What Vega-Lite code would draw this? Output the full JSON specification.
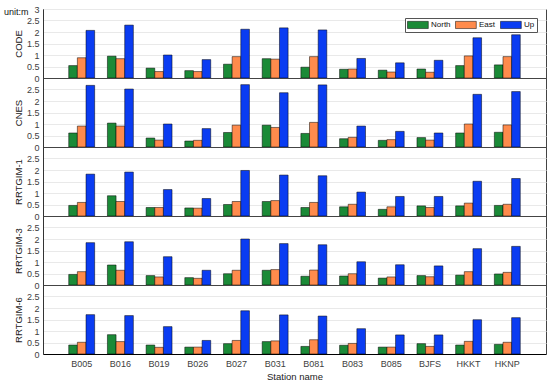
{
  "$schema": "https://vega.github.io/schema/vega-lite/v6.json",
  "padding": {"left": 3, "top": 4, "right": 5, "bottom": 2},
  "bounds": "flush",
  "spacing": 0,
  "datasets": {
    "bars": [
      {"m":"CODE","s":"B005","c":"North","v":0.54},{"m":"CODE","s":"B005","c":"East","v":0.88},{"m":"CODE","s":"B005","c":"Up","v":2.07},
      {"m":"CODE","s":"B016","c":"North","v":0.95},{"m":"CODE","s":"B016","c":"East","v":0.84},{"m":"CODE","s":"B016","c":"Up","v":2.30},
      {"m":"CODE","s":"B019","c":"North","v":0.43},{"m":"CODE","s":"B019","c":"East","v":0.28},{"m":"CODE","s":"B019","c":"Up","v":1.00},
      {"m":"CODE","s":"B026","c":"North","v":0.32},{"m":"CODE","s":"B026","c":"East","v":0.28},{"m":"CODE","s":"B026","c":"Up","v":0.80},
      {"m":"CODE","s":"B027","c":"North","v":0.60},{"m":"CODE","s":"B027","c":"East","v":0.93},{"m":"CODE","s":"B027","c":"Up","v":2.12},
      {"m":"CODE","s":"B031","c":"North","v":0.84},{"m":"CODE","s":"B031","c":"East","v":0.82},{"m":"CODE","s":"B031","c":"Up","v":2.18},
      {"m":"CODE","s":"B081","c":"North","v":0.47},{"m":"CODE","s":"B081","c":"East","v":0.93},{"m":"CODE","s":"B081","c":"Up","v":2.09},
      {"m":"CODE","s":"B083","c":"North","v":0.38},{"m":"CODE","s":"B083","c":"East","v":0.39},{"m":"CODE","s":"B083","c":"Up","v":0.85},
      {"m":"CODE","s":"B085","c":"North","v":0.34},{"m":"CODE","s":"B085","c":"East","v":0.26},{"m":"CODE","s":"B085","c":"Up","v":0.66},
      {"m":"CODE","s":"BJFS","c":"North","v":0.39},{"m":"CODE","s":"BJFS","c":"East","v":0.25},{"m":"CODE","s":"BJFS","c":"Up","v":0.77},
      {"m":"CODE","s":"HKKT","c":"North","v":0.54},{"m":"CODE","s":"HKKT","c":"East","v":0.96},{"m":"CODE","s":"HKKT","c":"Up","v":1.75},
      {"m":"CODE","s":"HKNP","c":"North","v":0.57},{"m":"CODE","s":"HKNP","c":"East","v":0.93},{"m":"CODE","s":"HKNP","c":"Up","v":1.88},

      {"m":"CNES","s":"B005","c":"North","v":0.61},{"m":"CNES","s":"B005","c":"East","v":0.91},{"m":"CNES","s":"B005","c":"Up","v":2.68},
      {"m":"CNES","s":"B016","c":"North","v":1.04},{"m":"CNES","s":"B016","c":"East","v":0.91},{"m":"CNES","s":"B016","c":"Up","v":2.52},
      {"m":"CNES","s":"B019","c":"North","v":0.39},{"m":"CNES","s":"B019","c":"East","v":0.30},{"m":"CNES","s":"B019","c":"Up","v":1.00},
      {"m":"CNES","s":"B026","c":"North","v":0.26},{"m":"CNES","s":"B026","c":"East","v":0.29},{"m":"CNES","s":"B026","c":"Up","v":0.80},
      {"m":"CNES","s":"B027","c":"North","v":0.63},{"m":"CNES","s":"B027","c":"East","v":0.95},{"m":"CNES","s":"B027","c":"Up","v":2.71},
      {"m":"CNES","s":"B031","c":"North","v":0.95},{"m":"CNES","s":"B031","c":"East","v":0.85},{"m":"CNES","s":"B031","c":"Up","v":2.36},
      {"m":"CNES","s":"B081","c":"North","v":0.59},{"m":"CNES","s":"B081","c":"East","v":1.07},{"m":"CNES","s":"B081","c":"Up","v":2.70},
      {"m":"CNES","s":"B083","c":"North","v":0.36},{"m":"CNES","s":"B083","c":"East","v":0.42},{"m":"CNES","s":"B083","c":"Up","v":0.91},
      {"m":"CNES","s":"B085","c":"North","v":0.29},{"m":"CNES","s":"B085","c":"East","v":0.32},{"m":"CNES","s":"B085","c":"Up","v":0.68},
      {"m":"CNES","s":"BJFS","c":"North","v":0.41},{"m":"CNES","s":"BJFS","c":"East","v":0.30},{"m":"CNES","s":"BJFS","c":"Up","v":0.61},
      {"m":"CNES","s":"HKKT","c":"North","v":0.61},{"m":"CNES","s":"HKKT","c":"East","v":1.00},{"m":"CNES","s":"HKKT","c":"Up","v":2.29},
      {"m":"CNES","s":"HKNP","c":"North","v":0.64},{"m":"CNES","s":"HKNP","c":"East","v":0.96},{"m":"CNES","s":"HKNP","c":"Up","v":2.41},

      {"m":"RRTGIM-1","s":"B005","c":"North","v":0.46},{"m":"RRTGIM-1","s":"B005","c":"East","v":0.59},{"m":"RRTGIM-1","s":"B005","c":"Up","v":1.82},
      {"m":"RRTGIM-1","s":"B016","c":"North","v":0.88},{"m":"RRTGIM-1","s":"B016","c":"East","v":0.63},{"m":"RRTGIM-1","s":"B016","c":"Up","v":1.91},
      {"m":"RRTGIM-1","s":"B019","c":"North","v":0.37},{"m":"RRTGIM-1","s":"B019","c":"East","v":0.37},{"m":"RRTGIM-1","s":"B019","c":"Up","v":1.15},
      {"m":"RRTGIM-1","s":"B026","c":"North","v":0.35},{"m":"RRTGIM-1","s":"B026","c":"East","v":0.34},{"m":"RRTGIM-1","s":"B026","c":"Up","v":0.76},
      {"m":"RRTGIM-1","s":"B027","c":"North","v":0.50},{"m":"RRTGIM-1","s":"B027","c":"East","v":0.63},{"m":"RRTGIM-1","s":"B027","c":"Up","v":1.98},
      {"m":"RRTGIM-1","s":"B031","c":"North","v":0.63},{"m":"RRTGIM-1","s":"B031","c":"East","v":0.67},{"m":"RRTGIM-1","s":"B031","c":"Up","v":1.78},
      {"m":"RRTGIM-1","s":"B081","c":"North","v":0.37},{"m":"RRTGIM-1","s":"B081","c":"East","v":0.59},{"m":"RRTGIM-1","s":"B081","c":"Up","v":1.75},
      {"m":"RRTGIM-1","s":"B083","c":"North","v":0.40},{"m":"RRTGIM-1","s":"B083","c":"East","v":0.51},{"m":"RRTGIM-1","s":"B083","c":"Up","v":1.04},
      {"m":"RRTGIM-1","s":"B085","c":"North","v":0.29},{"m":"RRTGIM-1","s":"B085","c":"East","v":0.40},{"m":"RRTGIM-1","s":"B085","c":"Up","v":0.85},
      {"m":"RRTGIM-1","s":"BJFS","c":"North","v":0.44},{"m":"RRTGIM-1","s":"BJFS","c":"East","v":0.37},{"m":"RRTGIM-1","s":"BJFS","c":"Up","v":0.85},
      {"m":"RRTGIM-1","s":"HKKT","c":"North","v":0.44},{"m":"RRTGIM-1","s":"HKKT","c":"East","v":0.56},{"m":"RRTGIM-1","s":"HKKT","c":"Up","v":1.51},
      {"m":"RRTGIM-1","s":"HKNP","c":"North","v":0.46},{"m":"RRTGIM-1","s":"HKNP","c":"East","v":0.51},{"m":"RRTGIM-1","s":"HKNP","c":"Up","v":1.63},

      {"m":"RRTGIM-3","s":"B005","c":"North","v":0.46},{"m":"RRTGIM-3","s":"B005","c":"East","v":0.58},{"m":"RRTGIM-3","s":"B005","c":"Up","v":1.84},
      {"m":"RRTGIM-3","s":"B016","c":"North","v":0.87},{"m":"RRTGIM-3","s":"B016","c":"East","v":0.64},{"m":"RRTGIM-3","s":"B016","c":"Up","v":1.88},
      {"m":"RRTGIM-3","s":"B019","c":"North","v":0.41},{"m":"RRTGIM-3","s":"B019","c":"East","v":0.35},{"m":"RRTGIM-3","s":"B019","c":"Up","v":1.23},
      {"m":"RRTGIM-3","s":"B026","c":"North","v":0.32},{"m":"RRTGIM-3","s":"B026","c":"East","v":0.29},{"m":"RRTGIM-3","s":"B026","c":"Up","v":0.64},
      {"m":"RRTGIM-3","s":"B027","c":"North","v":0.49},{"m":"RRTGIM-3","s":"B027","c":"East","v":0.64},{"m":"RRTGIM-3","s":"B027","c":"Up","v":2.00},
      {"m":"RRTGIM-3","s":"B031","c":"North","v":0.64},{"m":"RRTGIM-3","s":"B031","c":"East","v":0.67},{"m":"RRTGIM-3","s":"B031","c":"Up","v":1.80},
      {"m":"RRTGIM-3","s":"B081","c":"North","v":0.38},{"m":"RRTGIM-3","s":"B081","c":"East","v":0.65},{"m":"RRTGIM-3","s":"B081","c":"Up","v":1.75},
      {"m":"RRTGIM-3","s":"B083","c":"North","v":0.39},{"m":"RRTGIM-3","s":"B083","c":"East","v":0.49},{"m":"RRTGIM-3","s":"B083","c":"Up","v":1.01},
      {"m":"RRTGIM-3","s":"B085","c":"North","v":0.30},{"m":"RRTGIM-3","s":"B085","c":"East","v":0.35},{"m":"RRTGIM-3","s":"B085","c":"Up","v":0.88},
      {"m":"RRTGIM-3","s":"BJFS","c":"North","v":0.41},{"m":"RRTGIM-3","s":"BJFS","c":"East","v":0.36},{"m":"RRTGIM-3","s":"BJFS","c":"Up","v":0.83},
      {"m":"RRTGIM-3","s":"HKKT","c":"North","v":0.43},{"m":"RRTGIM-3","s":"HKKT","c":"East","v":0.58},{"m":"RRTGIM-3","s":"HKKT","c":"Up","v":1.58},
      {"m":"RRTGIM-3","s":"HKNP","c":"North","v":0.48},{"m":"RRTGIM-3","s":"HKNP","c":"East","v":0.55},{"m":"RRTGIM-3","s":"HKNP","c":"Up","v":1.68},

      {"m":"RRTGIM-6","s":"B005","c":"North","v":0.39},{"m":"RRTGIM-6","s":"B005","c":"East","v":0.51},{"m":"RRTGIM-6","s":"B005","c":"Up","v":1.71},
      {"m":"RRTGIM-6","s":"B016","c":"North","v":0.84},{"m":"RRTGIM-6","s":"B016","c":"East","v":0.54},{"m":"RRTGIM-6","s":"B016","c":"Up","v":1.67},
      {"m":"RRTGIM-6","s":"B019","c":"North","v":0.39},{"m":"RRTGIM-6","s":"B019","c":"East","v":0.29},{"m":"RRTGIM-6","s":"B019","c":"Up","v":1.19},
      {"m":"RRTGIM-6","s":"B026","c":"North","v":0.30},{"m":"RRTGIM-6","s":"B026","c":"East","v":0.30},{"m":"RRTGIM-6","s":"B026","c":"Up","v":0.59},
      {"m":"RRTGIM-6","s":"B027","c":"North","v":0.45},{"m":"RRTGIM-6","s":"B027","c":"East","v":0.59},{"m":"RRTGIM-6","s":"B027","c":"Up","v":1.88},
      {"m":"RRTGIM-6","s":"B031","c":"North","v":0.54},{"m":"RRTGIM-6","s":"B031","c":"East","v":0.57},{"m":"RRTGIM-6","s":"B031","c":"Up","v":1.70},
      {"m":"RRTGIM-6","s":"B081","c":"North","v":0.33},{"m":"RRTGIM-6","s":"B081","c":"East","v":0.62},{"m":"RRTGIM-6","s":"B081","c":"Up","v":1.65},
      {"m":"RRTGIM-6","s":"B083","c":"North","v":0.38},{"m":"RRTGIM-6","s":"B083","c":"East","v":0.46},{"m":"RRTGIM-6","s":"B083","c":"Up","v":1.10},
      {"m":"RRTGIM-6","s":"B085","c":"North","v":0.30},{"m":"RRTGIM-6","s":"B085","c":"East","v":0.30},{"m":"RRTGIM-6","s":"B085","c":"Up","v":0.83},
      {"m":"RRTGIM-6","s":"BJFS","c":"North","v":0.45},{"m":"RRTGIM-6","s":"BJFS","c":"East","v":0.33},{"m":"RRTGIM-6","s":"BJFS","c":"Up","v":0.83},
      {"m":"RRTGIM-6","s":"HKKT","c":"North","v":0.39},{"m":"RRTGIM-6","s":"HKKT","c":"East","v":0.55},{"m":"RRTGIM-6","s":"HKKT","c":"Up","v":1.49},
      {"m":"RRTGIM-6","s":"HKNP","c":"North","v":0.42},{"m":"RRTGIM-6","s":"HKNP","c":"East","v":0.51},{"m":"RRTGIM-6","s":"HKNP","c":"Up","v":1.58}
    ]
  },
  "data": {"name": "bars"},
  "resolve": {"scale": {"color": "independent"}, "legend": {"color": "independent"}},
  "vconcat": [
    {
      "width": 503, "height": 69,
      "title": {"text": "unit:m", "anchor": "start", "frame": "group", "dx": -39, "offset": -12, "fontSize": 9, "fontWeight": "normal", "color": "#111"},
      "transform": [{"filter": "datum.m === 'CODE'"}],
      "mark": {"type": "bar", "stroke": "#000", "strokeWidth": 0.5},
      "encoding": {
        "x": {"field": "s", "type": "nominal", "scale": {"paddingInner": 0.33, "paddingOuter": 0.665}, "axis": {"labels": false, "title": null, "ticks": false, "domainColor": "#000"}},
        "xOffset": {"field": "c", "type": "nominal", "sort": ["North", "East", "Up"], "scale": {"paddingInner": 0, "paddingOuter": 0}},
        "y": {"field": "v", "type": "quantitative", "scale": {"domain": [0, 3], "nice": false}, "axis": {"title": "CODE", "values": [0, 0.5, 1, 1.5, 2, 2.5, 3]}},
        "color": {"field": "c", "type": "nominal", "scale": {"domain": ["North", "East", "Up"], "range": ["#1b8a37", "#ff8b4c", "#0a3cf2"]},
          "legend": {"title": null, "orient": "top-right", "offset": 9, "direction": "horizontal", "fillColor": "#fff", "strokeColor": "#555", "padding": 2,
            "symbolType": "M-1,-0.9H4.2V0.9H-1Z", "symbolSize": 64, "symbolStrokeColor": "#000", "symbolStrokeWidth": 0.5,
            "labelFontSize": 8, "labelOffset": 15, "columnPadding": 3, "labelColor": "#111"}}
      }
    },
    {
      "width": 503, "height": 69,
      "transform": [{"filter": "datum.m === 'CNES'"}],
      "mark": {"type": "bar", "stroke": "#000", "strokeWidth": 0.5},
      "encoding": {
        "x": {"field": "s", "type": "nominal", "scale": {"paddingInner": 0.33, "paddingOuter": 0.665}, "axis": {"labels": false, "title": null, "ticks": false, "domainColor": "#000"}},
        "xOffset": {"field": "c", "type": "nominal", "sort": ["North", "East", "Up"], "scale": {"paddingInner": 0, "paddingOuter": 0}},
        "y": {"field": "v", "type": "quantitative", "scale": {"domain": [0, 3], "nice": false}, "axis": {"title": "CNES", "values": [0, 0.5, 1, 1.5, 2, 2.5]}},
        "color": {"field": "c", "type": "nominal", "scale": {"domain": ["North", "East", "Up"], "range": ["#1b8a37", "#ff8b4c", "#0a3cf2"]}, "legend": null}
      }
    },
    {
      "width": 503, "height": 69,
      "transform": [{"filter": "datum.m === 'RRTGIM-1'"}],
      "mark": {"type": "bar", "stroke": "#000", "strokeWidth": 0.5},
      "encoding": {
        "x": {"field": "s", "type": "nominal", "scale": {"paddingInner": 0.33, "paddingOuter": 0.665}, "axis": {"labels": false, "title": null, "ticks": false, "domainColor": "#000"}},
        "xOffset": {"field": "c", "type": "nominal", "sort": ["North", "East", "Up"], "scale": {"paddingInner": 0, "paddingOuter": 0}},
        "y": {"field": "v", "type": "quantitative", "scale": {"domain": [0, 3], "nice": false}, "axis": {"title": "RRTGIM-1", "values": [0, 0.5, 1, 1.5, 2, 2.5]}},
        "color": {"field": "c", "type": "nominal", "scale": {"domain": ["North", "East", "Up"], "range": ["#1b8a37", "#ff8b4c", "#0a3cf2"]}, "legend": null}
      }
    },
    {
      "width": 503, "height": 69,
      "transform": [{"filter": "datum.m === 'RRTGIM-3'"}],
      "mark": {"type": "bar", "stroke": "#000", "strokeWidth": 0.5},
      "encoding": {
        "x": {"field": "s", "type": "nominal", "scale": {"paddingInner": 0.33, "paddingOuter": 0.665}, "axis": {"labels": false, "title": null, "ticks": false, "domainColor": "#000"}},
        "xOffset": {"field": "c", "type": "nominal", "sort": ["North", "East", "Up"], "scale": {"paddingInner": 0, "paddingOuter": 0}},
        "y": {"field": "v", "type": "quantitative", "scale": {"domain": [0, 3], "nice": false}, "axis": {"title": "RRTGIM-3", "values": [0, 0.5, 1, 1.5, 2, 2.5]}},
        "color": {"field": "c", "type": "nominal", "scale": {"domain": ["North", "East", "Up"], "range": ["#1b8a37", "#ff8b4c", "#0a3cf2"]}, "legend": null}
      }
    },
    {
      "width": 503, "height": 69,
      "transform": [{"filter": "datum.m === 'RRTGIM-6'"}],
      "mark": {"type": "bar", "stroke": "#000", "strokeWidth": 0.5},
      "encoding": {
        "x": {"field": "s", "type": "nominal", "scale": {"paddingInner": 0.33, "paddingOuter": 0.665}, "axis": {"labelAngle": 0, "title": "Station name", "ticks": false, "domainColor": "#000", "labelPadding": 5, "titlePadding": 3}},
        "xOffset": {"field": "c", "type": "nominal", "sort": ["North", "East", "Up"], "scale": {"paddingInner": 0, "paddingOuter": 0}},
        "y": {"field": "v", "type": "quantitative", "scale": {"domain": [0, 3], "nice": false}, "axis": {"title": "RRTGIM-6", "values": [0, 0.5, 1, 1.5, 2, 2.5]}},
        "color": {"field": "c", "type": "nominal", "scale": {"domain": ["North", "East", "Up"], "range": ["#1b8a37", "#ff8b4c", "#0a3cf2"]}, "legend": null}
      }
    }
  ],
  "config": {
    "font": "Liberation Sans",
    "view": {"stroke": "#444", "strokeWidth": 1},
    "axis": {"labelFontSize": 9, "labelColor": "#404040", "titleFontSize": 9.5, "titleFontWeight": "normal", "titleColor": "#222", "ticks": false, "gridColor": "#e9e9e9", "domainColor": "#333", "labelPadding": 4, "titlePadding": 3},
    "axisY": {"format": "~g", "grid": true},
    "axisX": {"grid": false}
  }
}
